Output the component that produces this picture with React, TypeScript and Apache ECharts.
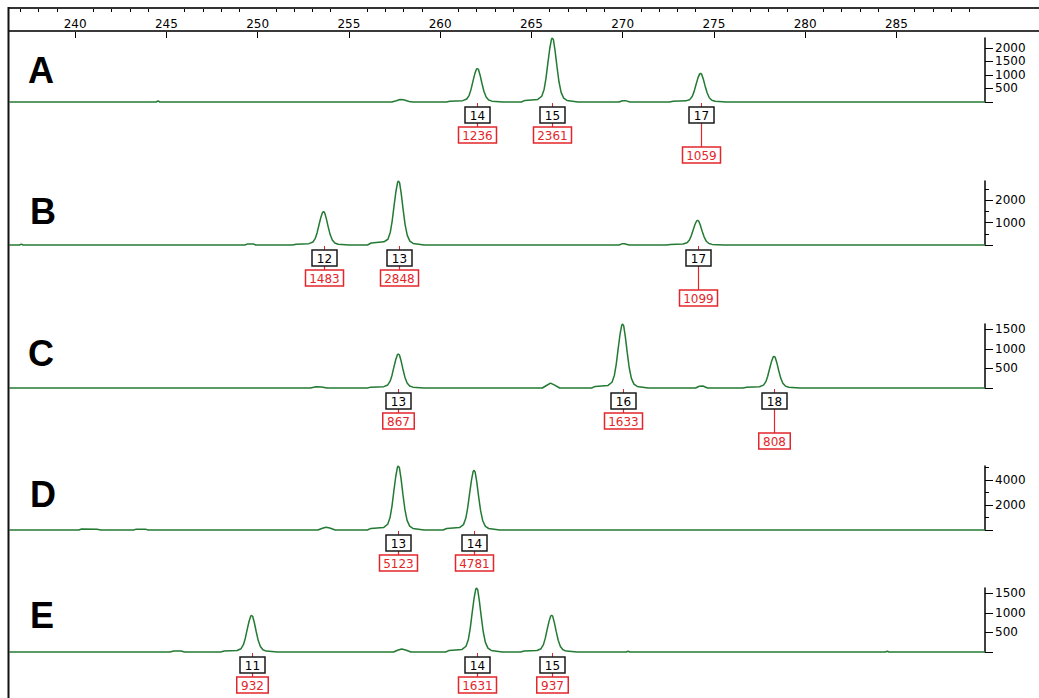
import { useEffect, useRef } from "react";
import * as echarts from "echarts";

// ---------- data ----------
const X_MIN = 236.375;
const X_MAX = 289.858;
const sizeTicks = [240, 245, 250, 255, 260, 265, 270, 275, 280, 285];
const minorSizeTicks = [237, 238, 239, 241, 242, 243, 244, 246, 247, 248, 249, 251, 252, 253, 254, 256, 257, 258, 259, 261, 262, 263, 264, 266, 267, 268, 269, 271, 272, 273, 274, 276, 277, 278, 279, 281, 282, 283, 284, 286, 287, 288, 289];

const panelNames = ["A", "B", "C", "D", "E"];

// Panel A
const allelesA = [14, 15, 17];
const sizesA = [262.04, 266.15, 274.27];
const heightsA = [1236, 2361, 1059];
const yMaxA = 2361;
const yTicksA = [500, 1000, 1500, 2000];
const yMinorA: number[] = [];
const traceA: [number, number][] = [
  [236.4, 0], [244.44, 0], [244.54, 40], [244.64, 0],
  [257.35, 0], [257.6, 45], [257.8, 90], [258.0, 80], [258.3, 20], [258.5, 0],
  [260.34, 0], [260.54, 31], [261.24, 49], [261.46, 111], [261.59, 247], [261.69, 457], [261.79, 742], [261.9, 1038], [261.99, 1211], [262.04, 1236], [262.1, 1199], [262.19, 989], [262.29, 692], [262.4, 396], [262.52, 185], [262.66, 74], [262.84, 31], [263.44, 0],
  [264.45, 0], [264.65, 59], [265.35, 94], [265.57, 212], [265.7, 472], [265.8, 874], [265.9, 1417], [266.01, 1983], [266.1, 2314], [266.15, 2361], [266.21, 2290], [266.3, 1889], [266.4, 1322], [266.51, 756], [266.63, 354], [266.77, 142], [266.95, 59], [267.55, 0],
  [269.8, 0], [270.0, 45], [270.15, 50], [270.4, 0],
  [272.57, 0], [272.77, 26], [273.47, 42], [273.69, 95], [273.82, 212], [273.92, 392], [274.02, 635], [274.13, 890], [274.22, 1038], [274.27, 1059], [274.33, 1027], [274.42, 847], [274.52, 593], [274.63, 339], [274.75, 159], [274.89, 64], [275.07, 26], [275.67, 0],
  [289.85, 0],
];

// Panel B
const allelesB = [12, 13, 17];
const sizesB = [253.61, 257.72, 274.11];
const heightsB = [1483, 2848, 1099];
const yMaxB = 2848;
const yTicksB = [1000, 2000];
const yMinorB = [500, 1500, 2500];
const traceB: [number, number][] = [
  [236.4, 0], [236.95, 0], [237.05, 40], [237.15, 0],
  [249.3, 0], [249.45, 50], [249.75, 50], [249.9, 0],
  [251.91, 0], [252.11, 37], [252.81, 59], [253.03, 133], [253.16, 297], [253.26, 549], [253.36, 890], [253.47, 1246], [253.56, 1453], [253.61, 1483], [253.67, 1439], [253.76, 1186], [253.86, 830], [253.97, 475], [254.09, 222], [254.23, 89], [254.41, 37], [255.01, 0],
  [256.02, 0], [256.22, 90], [256.92, 140], [257.14, 256], [257.27, 570], [257.37, 1054], [257.47, 1709], [257.58, 2392], [257.67, 2791], [257.72, 2848], [257.78, 2763], [257.87, 2278], [257.97, 1595], [258.08, 911], [258.2, 427], [258.34, 171], [258.52, 71], [259.12, 0],
  [269.8, 0], [270.0, 60], [270.1, 55], [270.35, 0],
  [272.41, 0], [272.61, 27], [273.31, 44], [273.53, 99], [273.66, 220], [273.76, 407], [273.86, 659], [273.97, 923], [274.06, 1077], [274.11, 1099], [274.17, 1066], [274.26, 879], [274.36, 615], [274.47, 352], [274.59, 165], [274.73, 66], [274.91, 27], [275.51, 0],
  [289.85, 0],
];

// Panel C
const allelesC = [13, 16, 18];
const sizesC = [257.71, 270.0, 278.3];
const heightsC = [867, 1633, 808];
const yMaxC = 1633;
const yTicksC = [500, 1000, 1500];
const yMinorC: number[] = [];
const traceC: [number, number][] = [
  [236.4, 0], [252.9, 0], [253.2, 30], [253.5, 25], [253.8, 0],
  [256.01, 0], [256.21, 22], [256.91, 35], [257.13, 78], [257.26, 173], [257.36, 321], [257.46, 520], [257.57, 728], [257.66, 850], [257.71, 867], [257.77, 841], [257.86, 694], [257.96, 486], [258.07, 277], [258.19, 130], [258.33, 52], [258.51, 22], [259.11, 0],
  [265.6, 0], [265.85, 70], [266.05, 125], [266.25, 80], [266.55, 0],
  [268.3, 0], [268.5, 41], [269.2, 65], [269.42, 147], [269.55, 327], [269.65, 604], [269.75, 980], [269.86, 1372], [269.95, 1600], [270.0, 1633], [270.06, 1584], [270.15, 1306], [270.25, 914], [270.36, 523], [270.48, 245], [270.62, 98], [270.8, 41], [271.4, 0],
  [274.0, 0], [274.2, 45], [274.4, 50], [274.65, 0],
  [276.6, 0], [276.8, 20], [277.5, 32], [277.72, 73], [277.85, 162], [277.95, 299], [278.05, 485], [278.16, 679], [278.25, 792], [278.3, 808], [278.36, 784], [278.45, 646], [278.55, 452], [278.66, 259], [278.78, 121], [278.92, 48], [279.1, 20], [279.7, 0],
  [289.85, 0],
];

// Panel D
const allelesD = [13, 14];
const sizesD = [257.71, 261.86];
const heightsD = [5123, 4781];
const yMaxD = 5123;
const yTicksD = [2000, 4000];
const yMinorD = [1000, 3000, 5000];
const traceD: [number, number][] = [
  [236.4, 0], [240.2, 0], [240.35, 80], [241.2, 60], [241.4, 0],
  [243.2, 0], [243.35, 70], [243.85, 70], [244.0, 0],
  [253.3, 0], [253.55, 140], [253.75, 215], [253.95, 160], [254.25, 0],
  [256.01, 0], [256.21, 128], [256.91, 205], [257.13, 461], [257.26, 1025], [257.36, 1896], [257.46, 3074], [257.57, 4303], [257.66, 5021], [257.71, 5123], [257.77, 4969], [257.86, 4098], [257.96, 2869], [258.07, 1639], [258.19, 768], [258.33, 307], [258.51, 128], [259.11, 0],
  [260.16, 0], [260.36, 120], [261.06, 191], [261.28, 430], [261.41, 956], [261.51, 1769], [261.61, 2869], [261.72, 4016], [261.81, 4685], [261.86, 4781], [261.92, 4638], [262.01, 3825], [262.11, 2677], [262.22, 1530], [262.34, 717], [262.48, 287], [262.66, 120], [263.26, 0],
  [289.85, 0],
];

// Panel E
const allelesE = [11, 14, 15];
const sizesE = [249.67, 262.0, 266.11];
const heightsE = [932, 1631, 937];
const yMaxE = 1631;
const yTicksE = [500, 1000, 1500];
const yMinorE: number[] = [];
const traceE: [number, number][] = [
  [236.4, 0], [245.2, 0], [245.4, 25], [245.8, 25], [246.0, 0],
  [247.97, 0], [248.17, 23], [248.87, 37], [249.09, 84], [249.22, 186], [249.32, 345], [249.42, 559], [249.53, 783], [249.62, 913], [249.67, 932], [249.73, 904], [249.82, 746], [249.92, 522], [250.03, 298], [250.15, 140], [250.29, 56], [250.47, 23], [251.07, 0],
  [257.45, 0], [257.7, 50], [257.9, 75], [258.15, 45], [258.4, 0],
  [260.3, 0], [260.5, 41], [261.2, 65], [261.42, 147], [261.55, 326], [261.65, 603], [261.75, 979], [261.86, 1370], [261.95, 1598], [262.0, 1631], [262.06, 1582], [262.15, 1305], [262.25, 913], [262.36, 522], [262.48, 245], [262.62, 98], [262.8, 41], [263.4, 0],
  [264.41, 0], [264.61, 23], [265.31, 37], [265.53, 84], [265.66, 187], [265.76, 347], [265.86, 562], [265.97, 787], [266.06, 918], [266.11, 937], [266.17, 909], [266.26, 750], [266.36, 525], [266.47, 300], [266.59, 141], [266.73, 56], [266.91, 23], [267.51, 0],
  [270.2, 0], [270.3, 20], [270.4, 0], [284.4, 0], [284.5, 20], [284.6, 0],
  [289.85, 0],
];

// ---------- layout / style ----------
const GREEN = "#237a33";
const RED = "#e3262b";
const SMALL_FONT = '12px "DejaVu Sans", sans-serif';
const GRID_LEFT = 9;
const GRID_WIDTH = 976;
const PANEL_H = 64;
const panelTops = [38, 181, 324, 466, 588];
const letterY = [70, 211, 353, 494, 615];
const letterX = [28, 30, 28, 30, 30];
const staggerA = [false, false, true];
const staggerB = [false, false, true];
const staggerC = [false, false, true];
const staggerD = [false, false];
const staggerE = [false, false, false];

const panels = [
  { trace: traceA, alleles: allelesA, sizes: sizesA, heights: heightsA, yMax: yMaxA, yTicks: yTicksA, yMinor: yMinorA, stagger: staggerA },
  { trace: traceB, alleles: allelesB, sizes: sizesB, heights: heightsB, yMax: yMaxB, yTicks: yTicksB, yMinor: yMinorB, stagger: staggerB },
  { trace: traceC, alleles: allelesC, sizes: sizesC, heights: heightsC, yMax: yMaxC, yTicks: yTicksC, yMinor: yMinorC, stagger: staggerC },
  { trace: traceD, alleles: allelesD, sizes: sizesD, heights: heightsD, yMax: yMaxD, yTicks: yTicksD, yMinor: yMinorD, stagger: staggerD },
  { trace: traceE, alleles: allelesE, sizes: sizesE, heights: heightsE, yMax: yMaxE, yTicks: yTicksE, yMinor: yMinorE, stagger: staggerE },
];

function makeRenderLabel(stagger: boolean[]) {
  return (params: any, api: any) => {
    const i = params.dataIndex;
    const pt = api.coord([api.value(0), 0]);
    const x = Math.round(pt[0]) + 0.5;
    const y = Math.round(pt[1]);
    const allele = String(api.value(1));
    const h = String(api.value(2));
    const bw = allele.length * 6.5 + 12;
    const rw = h.length * 6.5 + 12;
    const redTop = y + (stagger[i] ? 45 : 25);
    return {
      type: "group",
      children: [
        { type: "line", shape: { x1: x, y1: y + 1, x2: x, y2: y + 5 }, style: { stroke: RED, lineWidth: 1 } },
        { type: "line", shape: { x1: x, y1: y + 21, x2: x, y2: redTop }, style: { stroke: RED, lineWidth: 1.2 } },
        { type: "rect", shape: { x: x - bw / 2, y: y + 5, width: bw, height: 16 }, style: { fill: "#fff", stroke: "#1a1a1a", lineWidth: 1.5 } },
        { type: "text", style: { text: allele, x: x, y: y + 13.5, fill: "#000", font: SMALL_FONT, textAlign: "center", textVerticalAlign: "middle", verticalAlign: "middle" } },
        { type: "rect", shape: { x: x - rw / 2, y: redTop, width: rw, height: 16 }, style: { fill: "#fff", stroke: RED, lineWidth: 1.5 } },
        { type: "text", style: { text: h, x: x, y: redTop + 8.5, fill: RED, font: SMALL_FONT, textAlign: "center", textVerticalAlign: "middle", verticalAlign: "middle" } },
      ],
    };
  };
}

export default function App() {
  const ref = useRef<HTMLDivElement>(null);
  useEffect(() => {
    if (!ref.current) return;
    const chart = echarts.init(ref.current, null, { renderer: "svg" });

    const grids: any[] = [{ left: GRID_LEFT, width: GRID_WIDTH, top: 8, height: 23 }];
    const xAxes: any[] = [
      {
        gridIndex: 0, type: "value", position: "top", min: X_MIN, max: X_MAX,
        axisLine: { show: false }, splitLine: { show: false },
        axisTick: { show: true, inside: true, length: 7, customValues: sizeTicks, lineStyle: { color: "#000", width: 1 } },
        axisLabel: { show: true, inside: true, margin: 10, customValues: sizeTicks, color: "#000", fontSize: 12, fontFamily: "DejaVu Sans", formatter: (v: number) => String(v) },
      },
      {
        gridIndex: 0, type: "value", position: "top", min: X_MIN, max: X_MAX,
        axisLine: { show: false }, splitLine: { show: false }, axisLabel: { show: false },
        axisTick: { show: true, inside: true, length: 4, customValues: minorSizeTicks, lineStyle: { color: "#000", width: 1 } },
      },
    ];
    const yAxes: any[] = [{ gridIndex: 0, type: "value", show: false, min: 0, max: 1 }];
    const series: any[] = [];

    panels.forEach((p, k) => {
      const gi = k + 1;
      grids.push({ left: GRID_LEFT, width: GRID_WIDTH, top: panelTops[k], height: PANEL_H });
      const xi = xAxes.length;
      xAxes.push({ gridIndex: gi, type: "value", min: X_MIN, max: X_MAX, show: false });
      const yi = yAxes.length;
      yAxes.push({
        gridIndex: gi, type: "value", position: "right", min: 0, max: p.yMax,
        splitLine: { show: false },
        axisLine: { show: true, lineStyle: { color: "#000", width: 1.5 } },
        axisTick: { show: true, length: 8, customValues: [0, ...p.yTicks], lineStyle: { color: "#000", width: 1 } },
        axisLabel: { show: true, margin: 10, customValues: p.yTicks, color: "#000", fontSize: 12, fontFamily: "DejaVu Sans", formatter: (v: number) => String(v) },
      });
      if (p.yMinor.length) {
        yAxes.push({
          gridIndex: gi, type: "value", position: "right", min: 0, max: p.yMax,
          splitLine: { show: false }, axisLine: { show: false }, axisLabel: { show: false },
          axisTick: { show: true, length: 4, customValues: p.yMinor, lineStyle: { color: "#000", width: 1 } },
        });
      }
      series.push({
        type: "line", xAxisIndex: xi, yAxisIndex: yi, data: p.trace, showSymbol: false, clip: false,
        lineStyle: { color: GREEN, width: 1.5 }, silent: true,
      });
      series.push({
        type: "custom", xAxisIndex: xi, yAxisIndex: yi, clip: false, silent: true,
        data: p.sizes.map((s, i) => [s, p.alleles[i], p.heights[i]]),
        renderItem: makeRenderLabel(p.stagger),
      });
    });

    const graphics: any[] = [
      { type: "line", shape: { x1: 8, y1: 8, x2: 1039, y2: 8 }, style: { stroke: "#333", lineWidth: 2 }, z: 10 },
      { type: "line", shape: { x1: 8, y1: 31, x2: 1039, y2: 31 }, style: { stroke: "#3a3a3a", lineWidth: 2 }, z: 10 },
      { type: "line", shape: { x1: 8.5, y1: 7, x2: 8.5, y2: 698 }, style: { stroke: "#111", lineWidth: 2 }, z: 10 },
    ];
    panelNames.forEach((n, k) => {
      graphics.push({
        type: "text",
        style: { text: n, x: letterX[k], y: letterY[k], fill: "#000", font: 'bold 36px "Liberation Sans", Arial, sans-serif', textAlign: "left", textVerticalAlign: "middle", verticalAlign: "middle" },
      });
    });

    chart.setOption({
      animation: false,
      backgroundColor: "#fff",
      grid: grids,
      xAxis: xAxes,
      yAxis: yAxes,
      series,
      graphic: graphics,
    });
    return () => chart.dispose();
  }, []);
  return <div ref={ref} style={{ position: "absolute", left: 0, top: 0, width: 1039, height: 698 }} />;
}
